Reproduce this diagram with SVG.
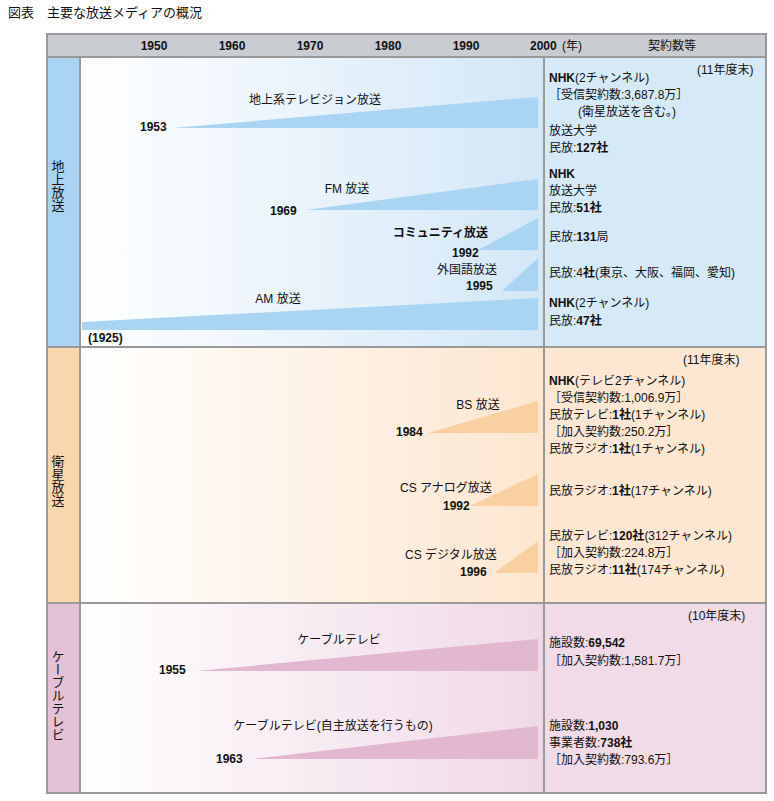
<svg xmlns="http://www.w3.org/2000/svg" width="774" height="801" viewBox="0 0 774 801">
<defs>
<style>
text{font-family:"Liberation Sans","Noto Sans CJK JP",sans-serif;font-size:12px;fill:#111}
.b{font-weight:bold}
.t{font-size:13px}
.v{font-size:13px;writing-mode:vertical-rl}
.ln{stroke:#999;stroke-width:2;fill:none}
</style>
<linearGradient id="g1" x1="0" x2="1"><stop offset="0" stop-color="#fff"/><stop offset="1" stop-color="#d3e7f7"/></linearGradient>
<linearGradient id="g2" x1="0" x2="1"><stop offset="0" stop-color="#fff"/><stop offset="1" stop-color="#fde6cf"/></linearGradient>
<linearGradient id="g3" x1="0" x2="1"><stop offset="0" stop-color="#fff"/><stop offset="1" stop-color="#f0d9e6"/></linearGradient>
</defs>
<rect width="774" height="801" fill="#fff"/>
<text x="8" y="17" class="t">図表　主要な放送メディアの概況</text>
<g id="header">
<rect x="47" y="34" width="719" height="23" fill="#c9cdd1"/>
<text x="154" y="50" class="b" text-anchor="middle">1950</text>
<text x="232" y="50" class="b" text-anchor="middle">1960</text>
<text x="310" y="50" class="b" text-anchor="middle">1970</text>
<text x="388" y="50" class="b" text-anchor="middle">1980</text>
<text x="466" y="50" class="b" text-anchor="middle">1990</text>
<text x="530" y="50" class="b">2000</text><text x="562" y="50">(年)</text>
<text x="672" y="50" text-anchor="middle">契約数等</text>
</g>
<g id="terrestrial">
<rect x="47" y="57" width="33" height="290" fill="#a9d5f2"/>
<rect x="80" y="57" width="464" height="290" fill="url(#g1)"/>
<rect x="544" y="57" width="222" height="290" fill="#d6e9f7"/>
<text x="57" y="160" class="v">地上放送</text>
<g fill="#a9d5f2">
<polygon points="172,128 538,97 538,128"/>
<polygon points="306,210 538,179 538,210"/>
<polygon points="478,250 538,218 538,250"/>
<polygon points="502,291 538,258 538,291"/>
<polygon points="82,322 538,298 538,330 82,330"/>
</g>
<text x="315" y="104" text-anchor="middle">地上系テレビジョン放送</text>
<text x="140" y="131" class="b">1953</text>
<text x="347" y="193" text-anchor="middle">FM 放送</text>
<text x="270" y="215" class="b">1969</text>
<text x="488" y="237" text-anchor="end" class="b">コミュニティ放送</text>
<text x="452" y="257" class="b">1992</text>
<text x="497" y="274" text-anchor="end">外国語放送</text>
<text x="466" y="290" class="b">1995</text>
<text x="278" y="303" text-anchor="middle">AM 放送</text>
<text x="88" y="342" class="b">(1925)</text>
<text x="697" y="74">(11年度末)</text>
<text x="549" y="82"><tspan class="b">NHK</tspan>(2チャンネル)</text>
<text x="549" y="99">［受信契約数:3,687.8万］</text>
<text x="578" y="116">(衛星放送を含む。)</text>
<text x="549" y="135">放送大学</text>
<text x="549" y="152">民放:<tspan class="b">127社</tspan></text>
<text x="549" y="178" class="b">NHK</text>
<text x="549" y="195">放送大学</text>
<text x="549" y="212">民放:<tspan class="b">51社</tspan></text>
<text x="549" y="241">民放:<tspan class="b">131</tspan>局</text>
<text x="549" y="277">民放:4<tspan class="b">社</tspan>(東京、大阪、福岡、愛知)</text>
<text x="549" y="307"><tspan class="b">NHK</tspan>(2チャンネル)</text>
<text x="549" y="325">民放:<tspan class="b">47社</tspan></text>
</g>
<g id="satellite">
<rect x="47" y="347" width="33" height="256" fill="#fad6ab"/>
<rect x="80" y="347" width="464" height="256" fill="url(#g2)"/>
<rect x="544" y="347" width="222" height="256" fill="#fde7d3"/>
<text x="57" y="455" class="v">衛星放送</text>
<g fill="#f9d0a2">
<polygon points="428,433 538,401 538,433"/>
<polygon points="470,506 538,474 538,506"/>
<polygon points="494,573 538,541 538,573"/>
</g>
<text x="478" y="409" text-anchor="middle">BS 放送</text>
<text x="396" y="436" class="b">1984</text>
<text x="446" y="492" text-anchor="middle">CS アナログ放送</text>
<text x="443" y="510" class="b">1992</text>
<text x="451" y="559" text-anchor="middle">CS デジタル放送</text>
<text x="460" y="576" class="b">1996</text>
<text x="683" y="364">(11年度末)</text>
<text x="549" y="385"><tspan class="b">NHK</tspan>(テレビ2チャンネル)</text>
<text x="549" y="402">［受信契約数:1,006.9万］</text>
<text x="549" y="419">民放テレビ:<tspan class="b">1社</tspan>(1チャンネル)</text>
<text x="549" y="436">［加入契約数:250.2万］</text>
<text x="549" y="453">民放ラジオ:<tspan class="b">1社</tspan>(1チャンネル)</text>
<text x="549" y="495">民放ラジオ:<tspan class="b">1社</tspan>(17チャンネル)</text>
<text x="549" y="540">民放テレビ:<tspan class="b">120社</tspan>(312チャンネル)</text>
<text x="549" y="557">［加入契約数:224.8万］</text>
<text x="549" y="574">民放ラジオ:<tspan class="b">11社</tspan>(174チャンネル)</text>
</g>
<g id="cable">
<rect x="47" y="603" width="33" height="190" fill="#e5c1d6"/>
<rect x="80" y="603" width="464" height="190" fill="url(#g3)"/>
<rect x="544" y="603" width="222" height="190" fill="#f1dbe7"/>
<text x="57" y="650" class="v">ケーブルテレビ</text>
<g fill="#e1b8d0">
<polygon points="196,671 538,639 538,671"/>
<polygon points="252,759 538,726 538,759"/>
</g>
<text x="339" y="644" text-anchor="middle">ケーブルテレビ</text>
<text x="159" y="674" class="b">1955</text>
<text x="333" y="730" text-anchor="middle">ケーブルテレビ(自主放送を行うもの)</text>
<text x="216" y="763" class="b">1963</text>
<text x="688" y="620">(10年度末)</text>
<text x="549" y="647">施設数:<tspan class="b">69,542</tspan></text>
<text x="549" y="665">［加入契約数:1,581.7万］</text>
<text x="549" y="730">施設数:<tspan class="b">1,030</tspan></text>
<text x="549" y="747">事業者数:<tspan class="b">738社</tspan></text>
<text x="549" y="764">［加入契約数:793.6万］</text>
</g>
<g id="frame">
<rect x="47" y="34" width="719" height="759" class="ln"/>
<path class="ln" d="M47,57H766M47,347H766M47,603H766M80,57V793M544,57V793"/>
</g>
</svg>
